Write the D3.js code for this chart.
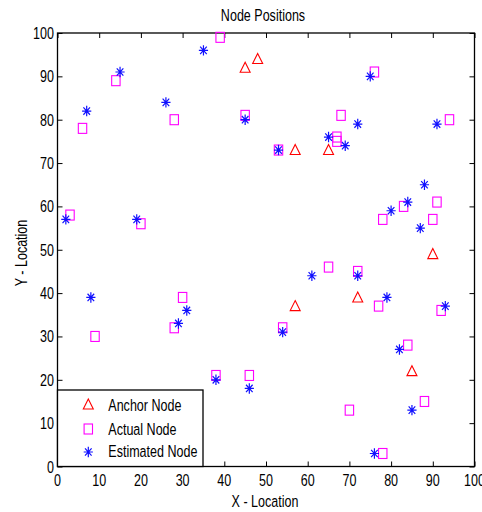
<!DOCTYPE html>
<html><head><meta charset="utf-8">
<script src="https://cdn.jsdelivr.net/npm/d3@7"></script>
<style>body{margin:0;background:#fff}svg{display:block}
text{font-family:"Liberation Sans",Arial,sans-serif;fill:#000}</style>
</head><body><svg id="c" width="482" height="512"></svg>
<script>
const anchorX=[45,48,57,65,90,57,72,85];
const anchorY=[92,94,73,73,49,37,39,22];
const actualX=[3,6,14,20,28,39,45,53,67,67,68,76,94,91,83,78,90,9,30,28,38,65,72,77,92,54,84,46,88,70,78];
const actualY=[58,78,89,56,80,99,81,73,76,75,81,91,80,61,60,57,57,30,39,32,21,46,45,37,36,32,28,21,15,13,3];
const estX=[2,7,15,19,26,35,45,53,65,69,72,75,91,88,84,80,87,8,31,29,38,61,72,79,93,54,82,46,85,76];
const estY=[57,82,91,57,84,96,80,73,76,74,79,90,79,65,61,59,55,39,36,33,20,44,44,39,37,31,27,18,13,3];
const xTicks=[0,10,20,30,40,50,60,70,80,90,100];
const yTicks=[0,10,20,30,40,50,60,70,80,90,100];
const legendLabels=["Anchor Node","Actual Node","Estimated Node"];

const svg=d3.select("#c");
const L=57.5,R=474.5,T=33,B=466.5;
const x=d3.scaleLinear().domain([0,100]).range([L,R]);
const y=d3.scaleLinear().domain([0,100]).range([B,T]);

const fs=16.5, sx=0.76;
// condensed text helper
function ctext(g,px,py,str,anchor,rot){
 const t=g.append("text").attr("transform",`translate(${px},${py})${rot?` rotate(${rot})`:""} scale(${sx},1)`)
  .attr("font-size",fs).attr("text-anchor",anchor||"start").text(str);
 return t;
}
// axes (ticks inward)
const gx=svg.append("g").attr("transform",`translate(0,${B})`)
 .call(d3.axisBottom(x).tickValues(xTicks).tickSizeInner(-5).tickSizeOuter(0).tickFormat(""));
const gy=svg.append("g").attr("transform",`translate(${L},0)`)
 .call(d3.axisLeft(y).tickValues(yTicks).tickSizeInner(-5).tickSizeOuter(0).tickFormat(""));
const gt=svg.append("g").attr("transform",`translate(0,${T})`)
 .call(d3.axisTop(x).tickValues(xTicks).tickSizeInner(-5).tickSizeOuter(0).tickFormat(""));
const gr=svg.append("g").attr("transform",`translate(${R},0)`)
 .call(d3.axisRight(y).tickValues(yTicks).tickSizeInner(-5).tickSizeOuter(0).tickFormat(""));
[gx,gy,gt,gr].forEach(g=>{g.select(".domain").remove();g.selectAll("line").attr("stroke","#000");});
const lab=svg.append("g");
xTicks.forEach(v=>ctext(lab,x(v),485.5,String(v),"middle"));
yTicks.forEach(v=>ctext(lab,54,y(v)+6,String(v),"end"));

svg.append("rect").attr("x",L).attr("y",T).attr("width",R-L).attr("height",B-T)
 .attr("fill","none").attr("stroke","#000").attr("stroke-width",1.3);

function star(g,cx,cy){
 const a=4.6,b=5.2,c=3.3,d=3.7;
 g.append("path").attr("d",`M${cx-a},${cy}H${cx+a}M${cx},${cy-b}V${cy+b}M${cx-c},${cy-d}L${cx+c},${cy+d}M${cx-c},${cy+d}L${cx+c},${cy-d}`)
  .attr("stroke","#1010ff").attr("stroke-width",1.2).attr("fill","none");
}
function square(g,cx,cy){
 g.append("rect").attr("x",cx-4.2).attr("y",cy-5).attr("width",8.4).attr("height",10)
  .attr("fill","none").attr("stroke","#ff00ff").attr("stroke-width",1.1);
}
function tri(g,cx,cy){
 g.append("path").attr("d",`M${cx},${cy-5.5}L${cx+5},${cy+4.5}L${cx-5},${cy+4.5}Z`)
  .attr("fill","none").attr("stroke","#ff0000").attr("stroke-width",1.1);
}
const pts=svg.append("g");
anchorX.forEach((v,i)=>tri(pts,x(v),y(anchorY[i])));
actualX.forEach((v,i)=>square(pts,x(v),y(actualY[i])));
estX.forEach((v,i)=>star(pts,x(v),y(estY[i])));

// legend
const lg=svg.append("g");
lg.append("rect").attr("x",L).attr("y",390).attr("width",145.5).attr("height",B-390)
 .attr("fill","#fff").attr("stroke","#000").attr("stroke-width",1.3);
const ly=[404.5,429,452];
tri(lg,88.3,ly[0]);square(lg,88.3,ly[1]);star(lg,88.3,ly[2]);
legendLabels.forEach((t,i)=>ctext(lg,108.3,[411,434.5,457][i],t,"start"));

ctext(svg,263,21.3,"Node Positions","middle");
ctext(svg,265,507,"X - Location","middle");
ctext(svg,26.5,253,"Y - Location","middle",-90);
</script></body></html>
